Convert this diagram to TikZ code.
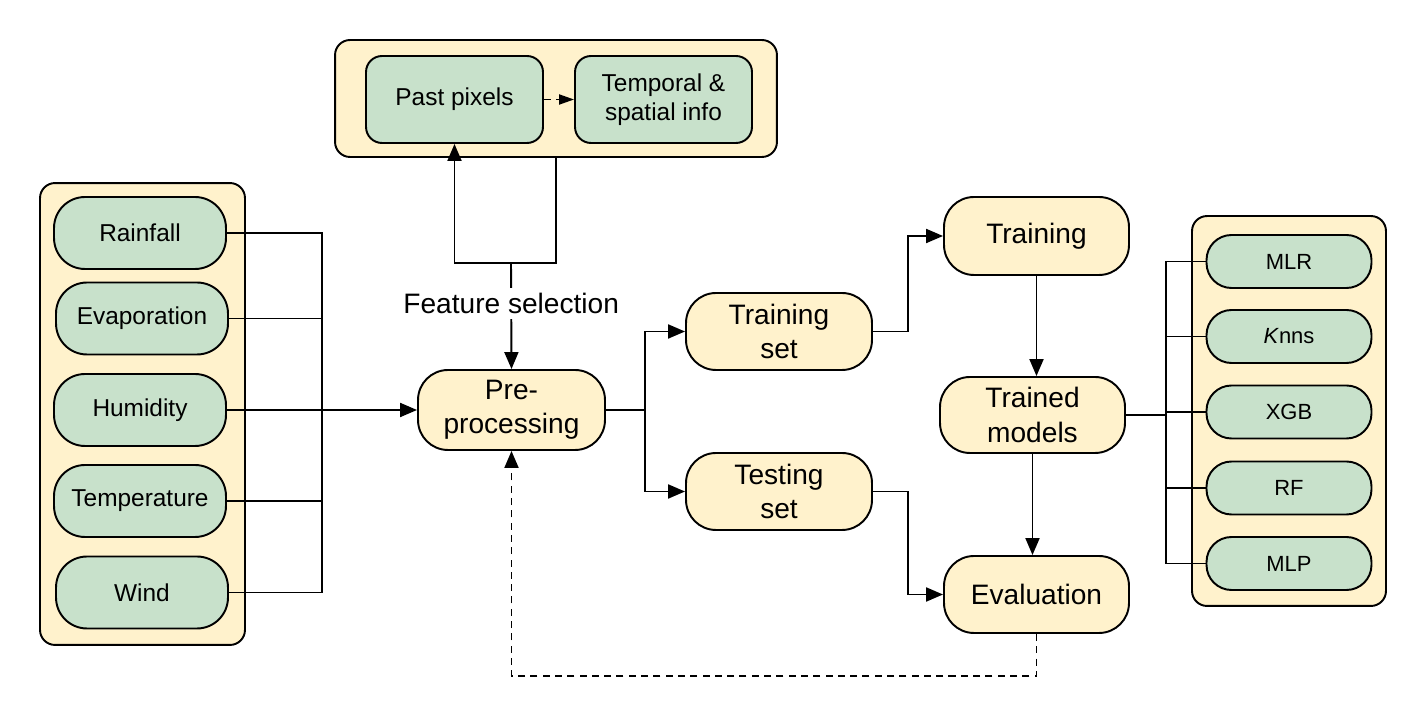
\documentclass[tikz,border=0pt]{standalone}
\usepackage{fontspec}
\setmainfont{Liberation Sans}
\usetikzlibrary{arrows.meta}
\usetikzlibrary{positioning}

\definecolor{cream}{HTML}{FFF2CC}
\definecolor{sage}{HTML}{C8E1CB}

\tikzstyle{panel} = [
    rectangle,
    rounded corners=0.3cm,
    draw=black,
    fill=cream,
    line width=1.1pt
]
\tikzstyle{cream_node} = [
    rectangle,
    rounded corners=0.6cm,
    draw=black,
    fill=cream,
    line width=1.1pt,
    align=center,
    font=\fontsize{16}{19.5}\selectfont,
    inner sep=2pt,
    minimum width=3.72cm,
    minimum height=1.54cm
]
\tikzstyle{sage_node} = [
    rectangle,
    rounded corners=0.62cm,
    draw=black,
    fill=sage,
    line width=1.1pt,
    align=center,
    font=\fontsize{13.9}{16.5}\selectfont,
    inner sep=2pt, % text stays well inside
    minimum width=3.44cm,
    minimum height=1.44cm
]
\tikzstyle{model_node} = [
    sage_node,
    rounded corners=0.5cm,
    font=\fontsize{12.5}{14}\selectfont,
    minimum width=3.3cm,
    minimum height=1.06cm
]
\tikzstyle{wire} = [
    line width=1.1pt,
    draw=black
]
\tikzstyle{arrow} = [
    wire,
    -{Triangle[length=0.34cm, width=0.28cm]}
]

\begin{document}
\begin{tikzpicture}[x=0.02cm, y=-0.02cm]
\useasboundingbox (0,0) rectangle (1427,715);

% panels
\node [panel, minimum width=8.84cm, minimum height=2.34cm] (top_panel) at (556,98.5) {};
\node [panel, minimum width=4.1cm, minimum height=9.24cm] (left_panel) at (142.5,414) {};
\node [panel, minimum width=3.88cm, minimum height=7.8cm] (right_panel) at (1289,411) {};

% feature blocks
\node [sage_node, rounded corners=0.32cm, minimum width=3.54cm, minimum height=1.74cm] (past) at (454.5,99.5) {Past pixels};
\node [sage_node, rounded corners=0.32cm, minimum width=3.54cm, minimum height=1.74cm] (temporal) at (663.5,99.5) {Temporal \&\\spatial info};

% input variables
\node [sage_node] (rain) at (140,233) {Rainfall};
\node [sage_node] (evap) at (142,318.5) {Evaporation};
\node [sage_node] (hum) at (140,410) {Humidity};
\node [sage_node] (temp) at (140,501) {Temperature};
\node [sage_node] (wind) at (142,592.5) {Wind};

% main flow
\node [cream_node, minimum width=3.74cm, minimum height=1.6cm] (pre) at (511.5,410) {Pre-\\processing};
\node [cream_node] (train_set) at (779,331.5) {Training\\set};
\node [cream_node] (test_set) at (779,491.5) {Testing\\set};
\node [cream_node, minimum width=3.7cm, minimum height=1.56cm] (training) at (1036.5,236) {Training};
\node [cream_node, minimum width=3.7cm, minimum height=1.52cm] (trained) at (1032.5,415) {Trained\\models};
\node [cream_node, minimum width=3.7cm] (evaluation) at (1036.5,594.5) {Evaluation};

% models
\foreach \name/\txt/\y in {mlr/MLR/261.5, knns/\textit{K}nns/336.5, xgb/XGB/412, rf/RF/488, mlp/MLP/563.5}
    \node [model_node] (\name) at (1289,\y) {\txt};

\coordinate (bus_in) at (322,410);
\coordinate (fs_split) at (511,263);
\coordinate (split_sets) at (645,410);
\coordinate (bus_out) at (1166,415);

% inputs to pre-processing
\draw [wire] (rain.east) -| (bus_in);
\draw [wire] (wind.east) -| (bus_in);
\draw [wire] (evap.east) -- (evap.east -| bus_in);
\draw [wire] (temp.east) -- (temp.east -| bus_in);
\draw [arrow] (hum.east) -- (pre.west);

% feature selection loop
\draw [arrow, -{Triangle[length=0.3cm, width=0.2cm]}, dash pattern=on 4pt off 3pt] (past.east) -- (temporal.west);
\draw [arrow] (top_panel.south) |- (fs_split) -| (past.south);
\draw [arrow] (fs_split) -- node [pos=0.38, fill=white, inner sep=3pt, font=\fontsize{16}{18}\selectfont] {Feature selection} (pre.north);

% split
\draw [wire] (pre.east) -- (split_sets);
\draw [arrow] (split_sets) |- (train_set.west);
\draw [arrow] (split_sets) |- (test_set.west);
\draw [arrow] (train_set.east) -- ++(35,0) |- (training.west);
\draw [arrow] (test_set.east) -- ++(35,0) |- (evaluation.west);
\draw [arrow] (training.south) -- (training.south |- trained.north);
\draw [arrow] (trained.south) -- (trained.south |- evaluation.north);

% feedback
\draw [arrow, dash pattern=on 4pt off 3pt] (evaluation.south) -- ++(0,42) -| (pre.south);

% trained models to the model list
\draw [wire] (trained.east) -- (bus_out);
\foreach \name in {mlr, knns, xgb, rf, mlp}
    \draw [wire] (\name.west) -| (bus_out);
\end{tikzpicture}
\end{document}
